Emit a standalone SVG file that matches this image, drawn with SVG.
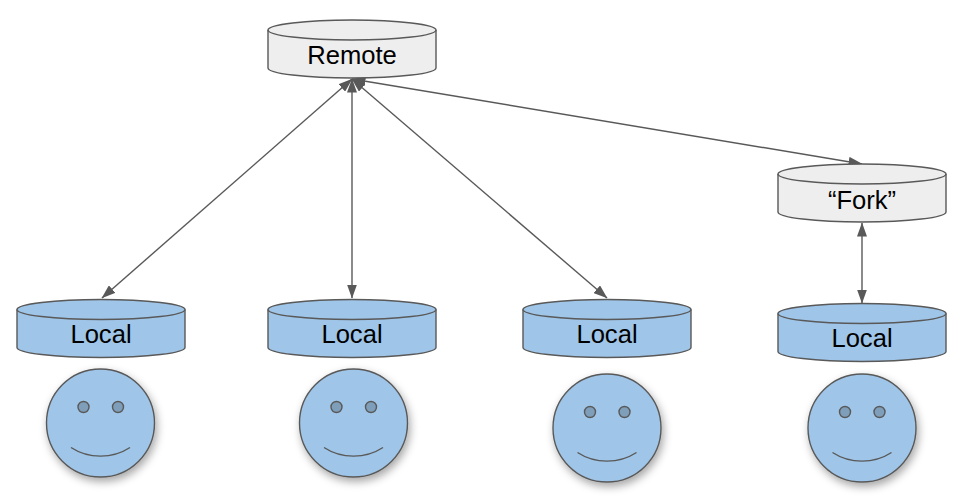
<svg xmlns="http://www.w3.org/2000/svg" width="962" height="499" viewBox="0 0 962 499">
<style>
.cyl{stroke:#595959;stroke-width:1.4}
.grey{fill:#eeeeee}
.blue{fill:#9fc5e8}
.lbl{font-family:"Liberation Sans",Arial,sans-serif;font-size:25.600px;fill:#000;text-anchor:middle}
.conn{stroke:#595959;stroke-width:1.4;fill:none;marker-start:url(#a);marker-end:url(#a)}
.head{stroke:#595959;stroke-width:1.4;fill:#9fc5e8}
.eye{stroke:#595959;stroke-width:1.4;fill:#7f9eba}
.smile{stroke:#595959;stroke-width:1.4;fill:none}
</style>
<defs>
<marker id="a" viewBox="0 0 14 10" refX="13.5" refY="5" markerUnits="userSpaceOnUse" markerWidth="14" markerHeight="10" orient="auto-start-reverse"><path d="M0 0L14 5L0 10Z" fill="#595959"/></marker>
<filter id="s" x="-20%" y="-20%" width="150%" height="150%"><feDropShadow dx="2" dy="4" stdDeviation="4" flood-color="#000" flood-opacity="0.35"/></filter>
<path id="cb" d="M0 10C0 4.500 37.600 0 84 0S168 4.500 168 10V48C168 53.500 130.400 58 84 58S0 53.500 0 48Z"/>
<path id="ct" d="M0 10C0 15.500 37.600 20 84 20S168 15.500 168 10" fill="none"/>
<g id="f"><circle class="head" cx="0" cy="0" r="54" filter="url(#s)"/><circle class="eye" cx="-17" cy="-16" r="5.500"/><circle class="eye" cx="17.500" cy="-16" r="5.500"/><path class="smile" d="M-29.500 24.500C-12 36 12 36 29.500 24.500"/></g>
</defs>
<g id="connectors">
<path class="conn" d="M352 79L102 298"/>
<path class="conn" d="M352 79V298"/>
<path class="conn" d="M352 79L607 298"/>
<path class="conn" d="M352 79L862 164"/>
<path class="conn" d="M862 223V303"/>
</g>
<g id="remote" transform="translate(268 20)"><use href="#cb" class="cyl grey"/><use href="#ct" class="cyl"/><text class="lbl" x="84" y="43.500">Remote</text></g>
<g id="fork" transform="translate(778 164)"><use href="#cb" class="cyl grey"/><use href="#ct" class="cyl"/><text class="lbl" x="84" y="44.500">“Fork”</text></g>
<g id="local1" transform="translate(17 299.500)"><use href="#cb" class="cyl blue"/><use href="#ct" class="cyl"/><text class="lbl" x="84" y="43.500">Local</text></g>
<g id="local2" transform="translate(268 299.500)"><use href="#cb" class="cyl blue"/><use href="#ct" class="cyl"/><text class="lbl" x="84" y="43.500">Local</text></g>
<g id="local3" transform="translate(523 299.500)"><use href="#cb" class="cyl blue"/><use href="#ct" class="cyl"/><text class="lbl" x="84" y="43.500">Local</text></g>
<g id="local4" transform="translate(778 303.500)"><use href="#cb" class="cyl blue"/><use href="#ct" class="cyl"/><text class="lbl" x="84" y="43.500">Local</text></g>
<g id="user1" transform="translate(100.500 423)"><use href="#f"/></g>
<g id="user2" transform="translate(353.500 423)"><use href="#f"/></g>
<g id="user3" transform="translate(607 428)"><use href="#f"/></g>
<g id="user4" transform="translate(862 428)"><use href="#f"/></g>
</svg>
